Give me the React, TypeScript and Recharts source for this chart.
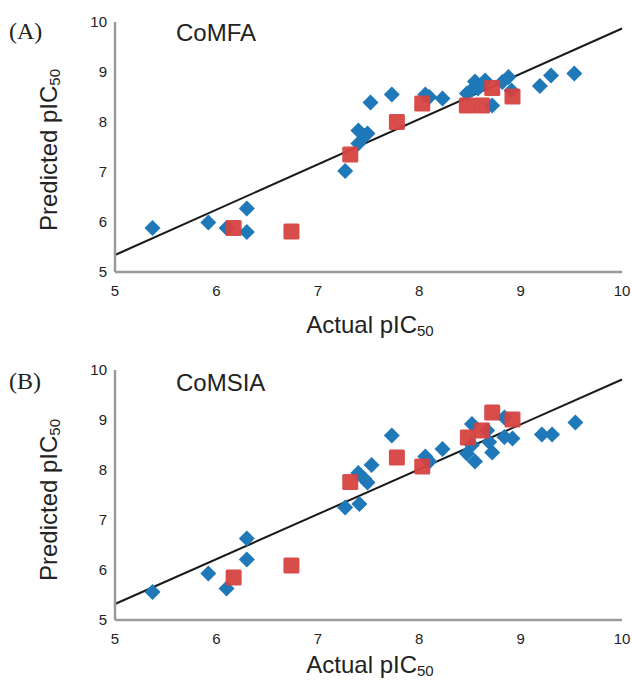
import React from 'react';
import { ScatterChart, Scatter, XAxis, YAxis, ReferenceLine } from 'recharts';

// CoMFA training set (blue diamonds) and test set (red squares)
const comfaTrainActual = [5.37, 5.92, 6.10, 6.30, 6.30, 7.27, 7.40, 7.40, 7.46, 7.49, 7.52, 7.73, 8.06, 8.10, 8.23, 8.47, 8.52, 8.55, 8.58, 8.65, 8.72, 8.82, 8.88, 8.91, 9.19, 9.30, 9.53];
const comfaTrainPred = [5.88, 5.99, 5.88, 6.27, 5.80, 7.02, 7.83, 7.57, 7.72, 7.77, 8.39, 8.55, 8.55, 8.50, 8.47, 8.57, 8.65, 8.81, 8.67, 8.83, 8.33, 8.80, 8.90, 8.63, 8.72, 8.93, 8.97];
const comfaTestActual = [6.17, 6.74, 7.32, 7.78, 8.03, 8.47, 8.62, 8.72, 8.92];
const comfaTestPred = [5.88, 5.81, 7.35, 8.00, 8.37, 8.33, 8.33, 8.68, 8.51];
const comfaFit = [[5, 5.34], [10, 9.87]];

// CoMSIA
const comsiaTrainActual = [5.37, 5.92, 6.10, 6.30, 6.30, 7.27, 7.41, 7.40, 7.46, 7.49, 7.53, 7.73, 8.06, 8.10, 8.23, 8.47, 8.52, 8.55, 8.52, 8.67, 8.69, 8.72, 8.84, 8.84, 8.92, 9.21, 9.31, 9.54];
const comsiaTrainPred = [5.56, 5.93, 5.63, 6.63, 6.21, 7.25, 7.32, 7.94, 7.82, 7.75, 8.10, 8.69, 8.27, 8.17, 8.42, 8.33, 8.92, 8.17, 8.50, 8.79, 8.56, 8.35, 8.66, 9.05, 8.63, 8.71, 8.71, 8.95];
const comsiaTestActual = [6.17, 6.74, 7.32, 7.78, 8.03, 8.48, 8.62, 8.72, 8.92];
const comsiaTestPred = [5.85, 6.09, 7.76, 8.25, 8.07, 8.65, 8.79, 9.15, 9.01];
const comsiaFit = [[5, 5.32], [10, 9.81]];

const ticks = [5, 6, 7, 8, 9, 10];

const BLUE = '#1f78b8';
const RED = '#d6423f';

const toPoints = (xs: number[], ys: number[]) => xs.map((x, i) => ({ x, y: ys[i] }));

const Diamond = (props: any) => {
  const { cx, cy } = props;
  const r = 8;
  return <path d={`M${cx},${cy - r}L${cx + r},${cy}L${cx},${cy + r}L${cx - r},${cy}Z`} fill={BLUE} />;
};

const Square = (props: any) => {
  const { cx, cy } = props;
  return <rect x={cx - 8} y={cy - 8} width={16} height={16} rx={1.5} fill={RED} fillOpacity={0.95} />;
};

const sans = 'Liberation Sans, Arial, sans-serif';

function Panel({ letter, name, train, test, fit, top, height, margin }: any) {
  return (
    <div style={{ position: 'absolute', left: 0, top, width: 632, height }}>
      <ScatterChart width={632} height={height} margin={margin}>
        <XAxis
          type="number"
          dataKey="x"
          domain={[5, 10]}
          ticks={ticks}
          tickLine={false}
          axisLine={{ stroke: '#9a9a9a', strokeWidth: 2.5 }}
          tick={{ fill: '#222', fontSize: 15, fontFamily: sans }}
          height={30}
          tickMargin={7}
        />
        <YAxis
          type="number"
          dataKey="y"
          domain={[5, 10]}
          ticks={ticks}
          tickLine={false}
          axisLine={{ stroke: '#9a9a9a', strokeWidth: 2.5 }}
          tick={{ fill: '#222', fontSize: 15, fontFamily: sans }}
          width={40}
          tickMargin={2}
        />
        <Scatter data={train} shape={Diamond} isAnimationActive={false} />
        <Scatter data={test} shape={Square} isAnimationActive={false} />
        <ReferenceLine
          segment={[{ x: fit[0][0], y: fit[0][1] }, { x: fit[1][0], y: fit[1][1] }]}
          stroke="#1a1a1a"
          strokeWidth={2}
        />
      </ScatterChart>
      <div style={{ position: 'absolute', left: 9, top: 17, fontFamily: 'Liberation Serif, Times New Roman, serif', fontSize: 24, lineHeight: '28px', color: '#222' }}>
        {letter}
      </div>
      <div style={{ position: 'absolute', left: 176, top: 19, fontFamily: sans, fontSize: 24, lineHeight: '28px', color: '#222' }}>
        {name}
      </div>
    </div>
  );
}

function Title({ left, top, rotate }: any) {
  return (
    <div
      style={{
        position: 'absolute',
        left,
        top,
        transform: `translate(-50%, -50%)${rotate ? ' rotate(-90deg)' : ''}`,
        fontFamily: sans,
        fontSize: 24,
        lineHeight: '28px',
        color: '#222',
        whiteSpace: 'nowrap',
      }}
    >
      {rotate ? 'Predicted pIC' : 'Actual pIC'}
      <span style={{ fontSize: 15, position: 'relative', top: 3 }}>50</span>
    </div>
  );
}

export default function App() {
  return (
    <div style={{ position: 'absolute', left: 0, top: 0, width: 632, height: 686, background: '#fff' }}>
      <Panel
        letter="(A)"
        name="CoMFA"
        train={toPoints(comfaTrainActual, comfaTrainPred)}
        test={toPoints(comfaTestActual, comfaTestPred)}
        fit={comfaFit}
        top={0}
        height={340}
        margin={{ top: 22, right: 10, bottom: 38, left: 75 }}
      />
      <Panel
        letter="(B)"
        name="CoMSIA"
        train={toPoints(comsiaTrainActual, comsiaTrainPred)}
        test={toPoints(comsiaTestActual, comsiaTestPred)}
        fit={comsiaFit}
        top={350}
        height={336}
        margin={{ top: 20, right: 10, bottom: 36, left: 75 }}
      />
      <Title left={370} top={326} />
      <Title left={370} top={666} />
      <Title left={50} top={150} rotate />
      <Title left={50} top={500} rotate />
    </div>
  );
}
